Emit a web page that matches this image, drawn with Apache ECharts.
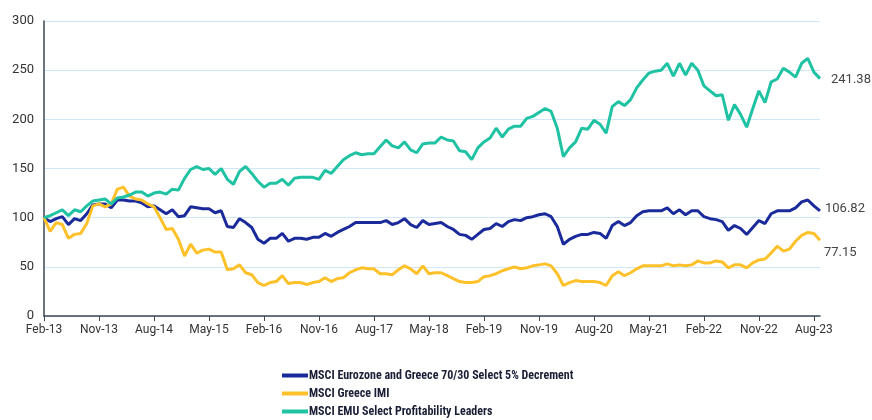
<!DOCTYPE html>
<html>
<head>
<meta charset="utf-8">
<script src="https://cdn.jsdelivr.net/npm/echarts@6/dist/echarts.min.js"></script>
<style>
  html, body { margin: 0; padding: 0; background: #fff; }
  #chart_idx { width: 872px; height: 420px; }
</style>
</head>
<body>
<div id="chart_idx"></div>
<script>
// monthly index levels, Feb-13 = 100
var monthNames = ['Jan', 'Feb', 'Mar', 'Apr', 'May', 'Jun', 'Jul', 'Aug', 'Sep', 'Oct', 'Nov', 'Dec'];
var startYear = 2013, startMonth = 1, monthCount = 128;

var decrement = [100, 96, 99, 101, 93, 99, 97, 104, 113, 114, 114, 110, 118, 118, 117, 117, 115, 111, 112, 108,
    104, 108, 101, 102, 111, 110, 109, 109, 105, 107, 91, 90, 99, 95, 90, 78, 74, 79, 79, 84,
    76, 79, 79, 78, 80, 80, 84, 81, 85, 88, 91, 95, 95, 95, 95, 95, 97, 93, 95, 99,
    93, 90, 97, 93, 94, 95, 91, 88, 83, 82, 78, 83, 88, 89, 94, 91, 96, 98, 97, 100,
    101, 103, 104, 101, 91, 73, 78, 81, 83, 83, 85, 84, 79, 92, 96, 92, 95, 102, 106, 107,
    107, 107, 110, 104, 108, 103, 107, 107, 101, 99, 98, 96, 87, 92, 89, 83, 90, 97, 94, 104,
    107, 107, 107, 110, 116, 118, 112, 106.82];

var greeceImi = [100, 86, 95, 93, 79, 83, 84, 94, 112, 114, 111, 114, 129, 131, 122, 119, 118, 114, 111, 100,
    88, 89, 78, 61, 73, 64, 67, 68, 65, 65, 47, 48, 52, 44, 42, 34, 31, 34, 35, 41,
    33, 34, 34, 32, 34, 35, 39, 35, 38, 39, 44, 47, 49, 48, 48, 43, 43, 42, 47, 51,
    48, 43, 51, 43, 44, 44, 41, 38, 35, 34, 34, 35, 40, 41, 43, 46, 48, 50, 48, 49,
    51, 52, 53, 51, 43, 31, 34, 36, 35, 35, 35, 34, 31, 41, 45, 41, 44, 48, 51, 51,
    51, 51, 53, 51, 52, 51, 52, 56, 54, 54, 56, 55, 49, 52, 52, 49, 54, 57, 58, 64,
    71, 66, 68, 76, 82, 85, 84, 77.15];

var profitLeaders = [100, 102, 105, 108, 102, 108, 106, 112, 117, 118, 119, 114, 120, 121, 123, 126, 126, 122, 125, 126,
    124, 129, 128, 140, 149, 152, 149, 150, 144, 150, 139, 134, 147, 152, 145, 137, 131, 135, 135, 139,
    133, 140, 141, 141, 141, 139, 148, 145, 152, 159, 163, 166, 164, 165, 165, 172, 179, 173, 171, 177,
    169, 166, 175, 176, 176, 182, 179, 178, 168, 167, 159, 171, 177, 181, 191, 182, 190, 193, 193, 201,
    203, 207, 211, 208, 191, 162, 171, 177, 191, 190, 199, 195, 186, 213, 218, 214, 220, 232, 240, 247,
    249, 250, 257, 244, 257, 245, 257, 250, 234, 229, 224, 225, 199, 215, 205, 192, 211, 229, 217, 238,
    241, 252, 248, 243, 257, 262, 248, 241.38];

var seriesNames = ['MSCI Eurozone and Greece 70/30 Select 5% Decrement', 'MSCI Greece IMI', 'MSCI EMU Select Profitability Leaders'];
var seriesColors = ['#1b2a9b', '#ffc12a', '#1fc2a3'];

var months = [];
for (var k = 0; k < monthCount; k++) {
    var m = (startMonth + k) % 12;
    var y = startYear + Math.floor((startMonth + k) / 12);
    months.push(monthNames[m] + '-' + String(y).slice(2));
}

var chart_idx = echarts.init(document.getElementById('chart_idx'));

function lineSeries(name, data, color, lblOffset) {
    return {
        name: name,
        type: 'line',
        data: data,
        showSymbol: false,
        symbol: 'none',
        lineStyle: { width: 3, color: color },
        itemStyle: { color: color },
        endLabel: {
            show: true,
            offset: lblOffset,
            color: '#444',
            fontSize: 13,
            fontFamily: 'Roboto',
            formatter: function (p) { return p.value.toFixed(2); }
        }
    };
}

var everyNine = function (i) { return i % 9 === 0; };

var option_idx = {
    animation: false,
    grid: { left: 44, right: 52, top: 21, bottom: 104 },
    legend: {
        orient: 'vertical',
        left: 282,
        top: 369,
        padding: 0,
        itemWidth: 26,
        itemHeight: 4,
        itemGap: 5,
        icon: 'rect',
        data: seriesNames,
        textStyle: {
            color: '#1a1f36',
            fontSize: 12,
            lineHeight: 13,
            fontWeight: 'bold',
            fontFamily: "'Liberation Sans Narrow', 'Roboto Condensed', Roboto",
            padding: [0, 0, 0, -4]
        }
    },
    xAxis: {
        type: 'category',
        boundaryGap: false,
        data: months,
        axisLine: { lineStyle: { color: '#3d4652', width: 1.5 } },
        axisTick: { interval: everyNine, length: 5, lineStyle: { color: '#3d4652' } },
        axisLabel: { interval: everyNine, color: '#333', fontSize: 12, fontFamily: 'Roboto', margin: 8 },
        splitLine: { show: false }
    },
    yAxis: {
        type: 'value',
        min: 0,
        max: 300,
        interval: 50,
        axisLine: { show: true, lineStyle: { color: '#3d4652', width: 1.5 } },
        axisTick: { show: false },
        axisLabel: { color: '#333', fontSize: 13, fontFamily: 'Roboto', margin: 10 },
        splitLine: { lineStyle: { color: '#cfe8f8', width: 1 } }
    },
    series: [
        lineSeries(seriesNames[0], decrement, seriesColors[0], [-3, -2]),
        lineSeries(seriesNames[1], greeceImi, seriesColors[1], [-4, 13]),
        lineSeries(seriesNames[2], profitLeaders, seriesColors[2], [3, 1])
    ]
};

chart_idx.setOption(option_idx);
</script>
</body>
</html>
